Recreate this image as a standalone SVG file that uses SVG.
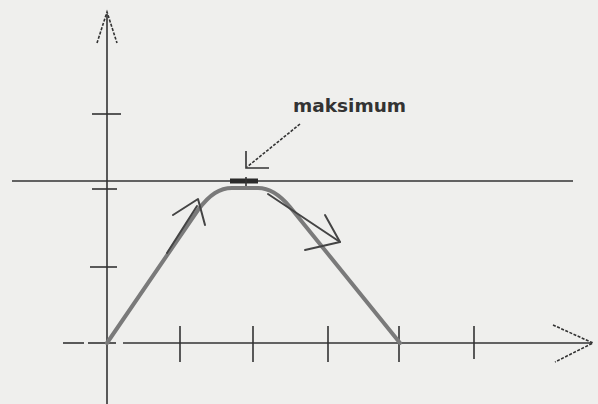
<svg xmlns="http://www.w3.org/2000/svg" width="598" height="404" viewBox="0 0 598 404">
<style>
.ax{stroke:#333;stroke-width:1.6;fill:none}
.tk{stroke:#333;stroke-width:1.6;fill:none}
.hd{stroke:#333;stroke-width:1.6;fill:none;stroke-dasharray:3 1.5}
.cv{stroke:#7a7a7a;stroke-width:4;fill:none;stroke-linejoin:round;stroke-linecap:round}
.ar{stroke:#444;stroke-width:2;fill:none;stroke-linecap:round;stroke-linejoin:round}
.lbl{font-family:"DejaVu Sans",sans-serif;font-weight:bold;font-size:18.5px;fill:#333}
</style>
<rect width="598" height="404" fill="#efefed"/>
<g id="axes">
<line class="ax" x1="107" y1="14" x2="107" y2="404"/>
<polyline class="hd" points="97,43 107,12 117,43"/>
<line class="tk" x1="92" y1="114" x2="121" y2="114"/>
<line class="tk" x1="92" y1="189" x2="117" y2="189"/>
<line class="tk" x1="90" y1="267" x2="117" y2="267"/>
<line class="ax" x1="63" y1="343" x2="84" y2="343"/>
<line class="ax" x1="88" y1="343" x2="116" y2="343"/>
<line class="ax" x1="123" y1="343" x2="592" y2="343"/>
<polyline class="hd" points="553,325 593,343 555,362"/>
<line class="tk" x1="180" y1="326" x2="180" y2="362"/>
<line class="tk" x1="253" y1="326" x2="253" y2="362"/>
<line class="tk" x1="328" y1="326" x2="328" y2="362"/>
<line class="tk" x1="399" y1="326" x2="399" y2="362"/>
<line class="tk" x1="474" y1="326" x2="474" y2="359"/>
</g>
<g id="max-level">
<line class="ax" x1="12" y1="181" x2="573" y2="181"/>
<rect x="230" y="178.5" width="28" height="5" fill="#2a2a2a"/>
<line class="tk" x1="246" y1="177" x2="246" y2="187"/>
</g>
<g id="curve">
<path class="cv" d="M107,343 L198,210 C210,194 220,188 232,188 L258,188 C270,188 280,195 290,207 L400,343"/>
</g>
<g id="arrows">
<line class="ar" x1="167" y1="253" x2="197" y2="206"/>
<polyline class="ar" points="173,215 198,199 205,225"/>
<line class="ar" x1="268" y1="194" x2="340" y2="242"/>
<polyline class="ar" points="325,215 340,242 305,250"/>
</g>
<g id="label-maksimum">
<line class="hd" x1="300" y1="124" x2="247" y2="167"/>
<polyline class="tk" points="246,151 246,168 269,168"/>
<text class="lbl" x="293" y="112">maksimum</text>
</g>
</svg>
